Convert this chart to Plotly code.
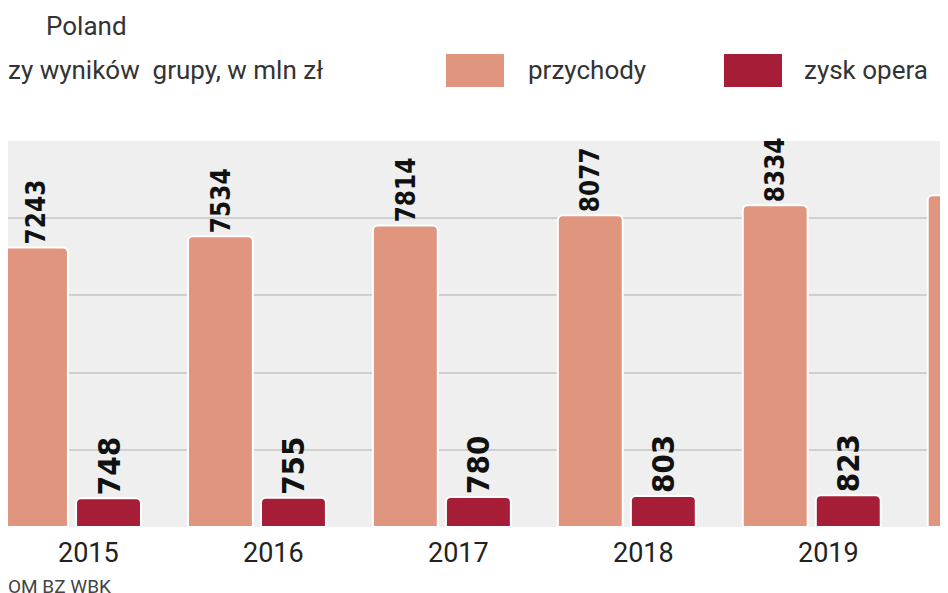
import plotly.graph_objects as go

years = ["2015", "2016", "2017", "2018", "2019", "2020"]
przychody = [7243, 7534, 7814, 8077, 8334, 8592]
zysk = [748, 755, 780, 803, 823, None]
xpos = list(range(len(years)))

def py(p):
    return (519 - p) / 386

def px(p):
    return p / 948

fig = go.Figure()
lab = dict(family="DejaVu Sans Condensed", size=31, color="#111", weight="bold")
fig.add_bar(x=xpos, y=przychody, offset=-0.373, width=0.351,
            marker=dict(color="#e0957f", line=dict(color="white", width=2), cornerradius=5),
            text=[str(v) for v in przychody], textposition="outside", textangle=-90,
            textfont=lab, cliponaxis=False)
fig.add_bar(x=xpos, y=zysk, offset=0.022, width=0.351,
            marker=dict(color="#a51d36", line=dict(color="white", width=2), cornerradius=5),
            text=[str(v) if v else "" for v in zysk], textposition="outside", textangle=-90,
            textfont=lab, cliponaxis=False)

for i, y in enumerate(years):
    fig.add_annotation(x=i + 0.09, y=0, yshift=-26, text=y, showarrow=False,
                       font=dict(family="Roboto", size=27, color="#222"))

txt = dict(family="Roboto", size=26, color="#333")
fig.add_annotation(xref="paper", yref="paper", x=px(36), y=py(18), xanchor="left", yanchor="middle",
                   text="Poland", showarrow=False, font=txt)
fig.add_annotation(xref="paper", yref="paper", x=px(-2), y=py(62), xanchor="left", yanchor="middle",
                   text="zy wyników  grupy, w mln zł", showarrow=False, font=txt)
fig.add_shape(type="rect", xref="paper", yref="paper", x0=px(437), x1=px(497), y0=py(80), y1=py(45),
              fillcolor="#e0957f", line=dict(color="white", width=2))
fig.add_annotation(xref="paper", yref="paper", x=px(518), y=py(62), xanchor="left", yanchor="middle",
                   text="przychody", showarrow=False, font=txt)
fig.add_shape(type="rect", xref="paper", yref="paper", x0=px(715), x1=px(775), y0=py(80), y1=py(45),
              fillcolor="#a51d36", line=dict(color="white", width=2))
fig.add_annotation(xref="paper", yref="paper", x=px(794), y=py(62), xanchor="left", yanchor="middle",
                   text="zysk opera", showarrow=False, font=txt)
fig.add_annotation(xref="paper", yref="paper", x=px(-2), y=py(578), xanchor="left", yanchor="middle",
                   text="OM BZ WBK", showarrow=False,
                   font=dict(family="Roboto", size=19, color="#444"))

fig.update_layout(
    width=948, height=593, margin=dict(l=0, r=0, t=133, b=74),
    paper_bgcolor="white", plot_bgcolor="#efefef", showlegend=False,
    xaxis=dict(range=[-0.346, 4.78], showticklabels=False, showgrid=False, zeroline=False),
    yaxis=dict(range=[0, 10000], dtick=2000, showticklabels=False, gridcolor="#cfcfcf",
               gridwidth=1.5, zeroline=False),
)
fig.write_html("out.html")
